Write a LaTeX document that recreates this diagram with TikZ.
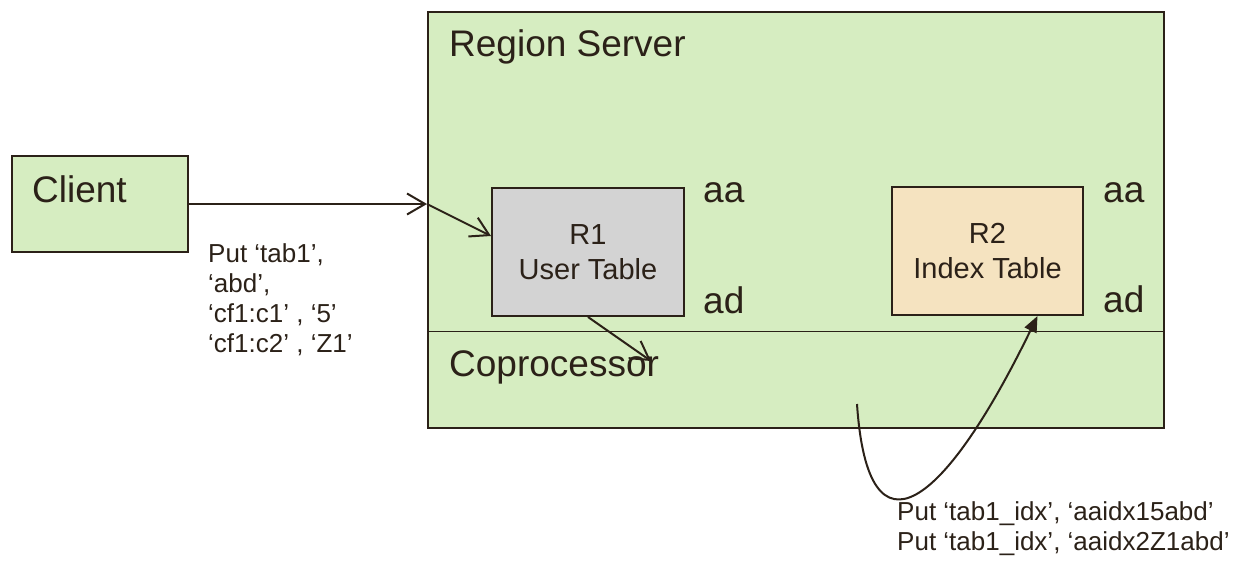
\documentclass[tikz,border=0pt]{standalone}
\usepackage{fontspec}
\setmainfont{Liberation Sans}
\usetikzlibrary{arrows.meta}
\definecolor{ink}{RGB}{43,33,24}
\definecolor{rsgreen}{RGB}{214,237,193}
\definecolor{usergrey}{RGB}{211,211,211}
\definecolor{idxtan}{RGB}{245,227,192}
\begin{document}
\begin{tikzpicture}[x=1pt,y=-1pt,
  box/.style={draw=ink, line width=2pt, inner sep=0pt, text=ink},
  bigtxt/.style={font=\fontsize{37}{44}\selectfont, text=ink, inner sep=0pt, anchor=base west},
  tabtxt/.style={font=\fontsize{29}{35}\selectfont, align=center},
  smalltxt/.style={font=\fontsize{26}{30}\selectfont, text=ink, inner sep=0pt, anchor=base west},
  conn/.style={draw=ink, line width=2pt},
  barb/.style={-{Straight Barb[length=18pt,width=21pt]}},
  solidtip/.style={-{Triangle[length=16pt,width=13pt]}}]
\useasboundingbox (0,0) rectangle (1235,562);

% region server with its coprocessor band
\node[box, fill=rsgreen, minimum width=736pt, minimum height=416pt] (rs) at (796,220) {};
\coordinate (sep) at (0,331.5);
\draw[ink, line width=1.8pt] (rs.west |- sep) -- (rs.east |- sep);

% boxes
\node[box, fill=rsgreen, minimum width=176pt, minimum height=96pt] (client) at (100,204) {};
\node[box, fill=usergrey, minimum width=192pt, minimum height=128pt, tabtxt] (r1) at (588,252) {R1\\User Table};
\node[box, fill=idxtan, minimum width=191pt, minimum height=128pt, tabtxt] (r2) at (987.5,251) {R2\\Index Table};

% titles
\node[bigtxt] (clientlbl) at (32,202) {Client};
\node[bigtxt] (rslbl) at (449,56) {Region Server};
\node[bigtxt] (coplbl) at (449,376) {Coprocessor};

% key range labels
\node[bigtxt] (r1aa) at (703,202) {aa};
\node[bigtxt] (r1ad) at (703,313) {ad};
\node[bigtxt] (r2aa) at (1103,202) {aa};
\node[bigtxt] (r2ad) at (1103,312) {ad};

% client put request
\node[smalltxt] (put1) at (208,262) {Put ‘tab1’,};
\node[smalltxt] (put2) at (208,292) {‘abd’,};
\node[smalltxt] (put3) at (208,322) {‘cf1:c1’ , ‘5’};
\node[smalltxt] (put4) at (208,352) {‘cf1:c2’ , ‘Z1’};

% index puts issued by the coprocessor
\node[smalltxt] (idx1) at (897,520) {Put ‘tab1\_idx’, ‘aaidx15abd’};
\node[smalltxt] (idx2) at (897,550) {Put ‘tab1\_idx’, ‘aaidx2Z1abd’};

% connectors
\coordinate (entry) at (client.east -| rs.west);
\draw[conn, barb] (client.east) -- (entry);
\draw[conn, barb] (entry) -- ([yshift=16pt]r1.west);
\coordinate (cop) at (651,361);
\draw[conn, barb] (r1.south) -- (cop);
\coordinate (cstart) at (857,404);
\draw[conn, solidtip] (cstart) .. controls (868,568) and (945,506) .. ([xshift=50pt]r2.south);
\end{tikzpicture}
\end{document}
